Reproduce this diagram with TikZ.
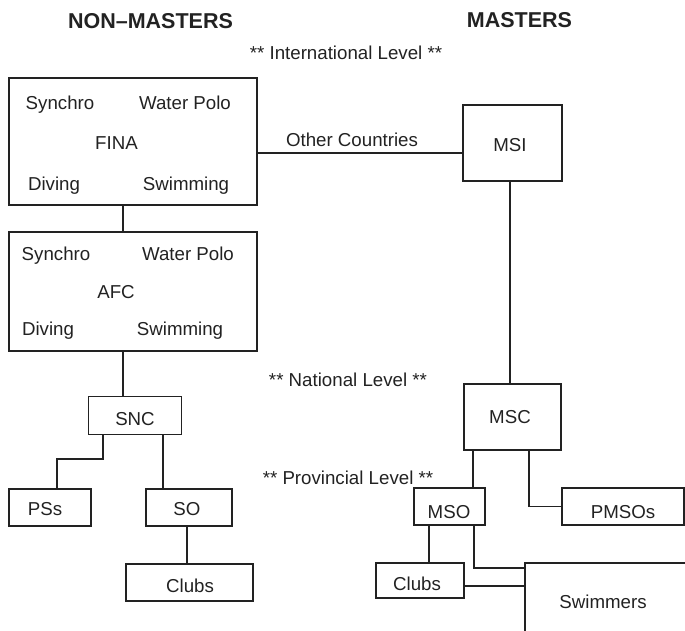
\documentclass[tikz,border=0pt]{standalone}
\usepackage{fontspec}
\setmainfont{Liberation Sans}
\definecolor{ink}{HTML}{222222}
\begin{document}
\begin{tikzpicture}[x=1pt,y=-1pt,
  box/.style={draw=ink, line width=1.2pt, inner sep=0pt, rectangle},
  txt/.style={text=ink, font=\fontsize{18.7}{22}\selectfont, inner sep=0pt, anchor=base},
  ttl/.style={text=ink, font=\fontsize{21.5}{26}\selectfont\bfseries, inner sep=0pt, anchor=base},
  link/.style={draw=ink, line width=1.2pt}]
\useasboundingbox (0,0) rectangle (685,631);
% titles
\node[ttl] (tnm) at (150.5,29) {NON--MASTERS};
\node[ttl] (tm) at (519.5,28) {MASTERS};
\node[txt] (intl) at (346,60) {** International Level **};
\node[txt] (natl) at (348,386) {** National Level **};
\node[txt] (prov) at (348,484) {** Provincial Level **};
% FINA
\node[box, minimum width=248pt, minimum height=127pt] (fina) at (133,141.5) {};
\node[txt] (f1) at (60,110) {Synchro};
\node[txt] (f2) at (185,110) {Water Polo};
\node[txt] (f3) at (116.5,150) {FINA};
\node[txt] (f4) at (54,191) {Diving};
\node[txt] (f5) at (186,191) {Swimming};
% AFC
\node[box, minimum width=248pt, minimum height=119pt] (afc) at (133,291.5) {};
\node[txt] (a1) at (56,260) {Synchro};
\node[txt] (a2) at (188,260) {Water Polo};
\node[txt] (a3) at (116,298) {AFC};
\node[txt] (a4) at (48,335) {Diving};
\node[txt] (a5) at (180,335) {Swimming};
% left small boxes
\node[box, minimum width=93pt, minimum height=38pt] (snc) at (135,415.5) {};
\node[txt] (snct) at (135,425) {SNC};
\node[box, minimum width=82pt, minimum height=37pt] (pss) at (50,507.5) {};
\node[txt] (psst) at (45,515) {PSs};
\node[box, minimum width=86pt, minimum height=37pt] (so) at (189,507.5) {};
\node[txt] (sot) at (187,515) {SO};
\node[box, minimum width=127pt, minimum height=37pt] (clubsl) at (189.5,582.5) {};
\node[txt] (clubslt) at (190,592) {Clubs};
% masters side
\node[box, minimum width=99pt, minimum height=76pt] (msi) at (512.5,143) {};
\node[txt] (msit) at (510,152) {MSI};
\node[box, minimum width=97pt, minimum height=66pt] (msc) at (512.5,417) {};
\node[txt] (msct) at (510,423) {MSC};
\node[box, minimum width=71pt, minimum height=37pt] (mso) at (449.5,506.5) {};
\node[txt] (msot) at (449,518) {MSO};
\node[box, minimum width=122pt, minimum height=37pt] (pmsos) at (623,506.5) {};
\node[txt] (pmsost) at (623,518) {PMSOs};
\node[box, minimum width=88pt, minimum height=35pt] (clubsr) at (420,580.5) {};
\node[txt] (clubsrt) at (417,590) {Clubs};
\node[box, minimum width=200pt, minimum height=100pt] (swim) at (625,613) {};
\node[txt] (swimt) at (603,608) {Swimmers};
% connector helpers
\coordinate (oc) at (360,153);
\node[txt] (oct) at (352,147) {Other Countries};
\coordinate (xa) at (123,0);
\coordinate (xpl) at (57,459);
\coordinate (xpr) at (103,459);
\coordinate (xso) at (163,0);
\coordinate (xsc) at (187,0);
\coordinate (xmsi) at (510,0);
\coordinate (xmso) at (473,0);
\coordinate (xpm) at (529,0);
\coordinate (xmc) at (429,0);
\coordinate (xms) at (474,568);
\coordinate (ycs) at (0,586);
% connectors
\draw[link] (fina.east |- oc) -- (msi.west |- oc);
\draw[link] (fina.south -| xa) -- (afc.north -| xa);
\draw[link] (afc.south -| xa) -- (snc.north -| xa);
\draw[link] (snc.south -| xpr) -- (xpr) -- (xpl) -- (pss.north -| xpl);
\draw[link] (snc.south -| xso) -- (so.north -| xso);
\draw[link] (so.south -| xsc) -- (clubsl.north -| xsc);
\draw[link] (msi.south -| xmsi) -- (msc.north -| xmsi);
\draw[link] (msc.south -| xmso) -- (mso.north -| xmso);
\draw[link] (msc.south -| xpm) |- (pmsos.west);
\draw[link] (mso.south -| xmc) -- (clubsr.north -| xmc);
\draw[link] (mso.south -| xms) -- (xms) -- (swim.west |- xms);
\draw[link] (clubsr.east |- ycs) -- (swim.west |- ycs);
\end{tikzpicture}
\end{document}
